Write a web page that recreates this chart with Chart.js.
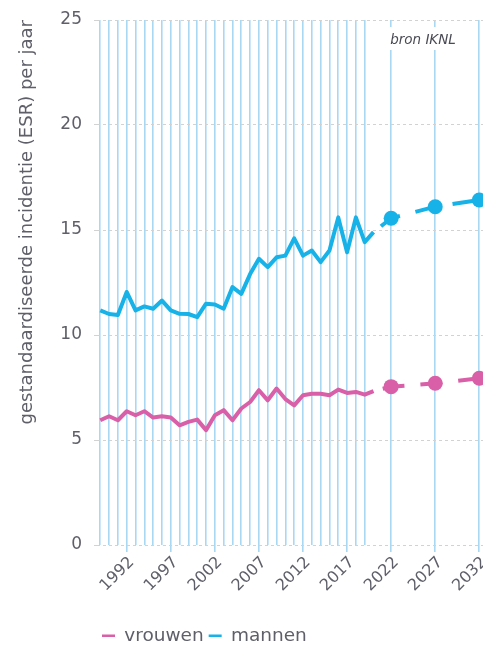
<!DOCTYPE html>
<html><head><meta charset="utf-8">
<script src="https://cdn.jsdelivr.net/npm/chart.js@4"></script>
<style>html,body{margin:0;padding:0;background:#fff}</style>
</head><body>
<canvas id="c" width="483" height="647"></canvas>
<script>
// ---- data ----
const years = [1989,1990,1991,1992,1993,1994,1995,1996,1997,1998,1999,2000,2001,2002,2003,2004,2005,2006,2007,2008,2009,2010,2011,2012,2013,2014,2015,2016,2017,2018,2019,2020];
const vrouwen = [5.94,6.13,5.94,6.37,6.18,6.37,6.07,6.13,6.07,5.70,5.86,5.97,5.47,6.18,6.42,5.94,6.50,6.81,7.37,6.89,7.45,6.95,6.65,7.13,7.20,7.20,7.13,7.40,7.24,7.29,7.16,7.33];
const mannen = [11.17,11.00,10.95,12.05,11.17,11.36,11.25,11.64,11.17,11.01,11.00,10.85,11.49,11.45,11.25,12.28,11.96,12.90,13.63,13.23,13.70,13.78,14.60,13.78,14.02,13.47,14.02,15.60,13.94,15.60,14.42,14.90];
const projYears = [2022, 2027, 2032];
const vrouwenProj = [7.54, 7.70, 7.94];
const mannenProj = [15.56, 16.11, 16.43];
const gridYears = [1989,1990,1991,1992,1993,1994,1995,1996,1997,1998,1999,2000,2001,2002,2003,2004,2005,2006,2007,2008,2009,2010,2011,2012,2013,2014,2015,2016,2017,2018,2019,2022,2027,2032];
const labelYears = [1992,1997,2002,2007,2012,2017,2022,2027,2032];
const yTicks = [0,5,10,15,20,25];
const seriesNames = ['vrouwen','mannen'];
const yTitle = 'gestandaardiseerde incidentie (ESR) per jaar';
const sourceText = 'bron IKNL';

// ---- styles ----
const PINK = '#d960a8';
const BLUE = '#17b2e7';
const GRIDBLUE = '#a9d8f3';
const TXT = '#5f5f6a';

Chart.defaults.font.family = '"DejaVu Sans", sans-serif';

function pts(xs, ys){ return xs.map((x,i)=>({x:x, y:ys[i]})); }
function proj(series, p){
  return [{x: years[years.length-1], y: series[series.length-1]}].concat(pts(projYears, p));
}

const sourcePlugin = {
  id: 'sourceLabel',
  beforeDatasetsDraw(chart){
    const {ctx, chartArea, scales} = chart;
    const x0 = scales.x.getPixelForValue(projYears[0]) - 6;
    const y0 = chartArea.top + 7;
    ctx.save();
    ctx.fillStyle = '#ffffff';
    ctx.fillRect(x0, y0, 76, 23);
    ctx.font = 'italic 13.5px "DejaVu Sans", sans-serif';
    ctx.fillStyle = '#4a4a55';
    ctx.textBaseline = 'middle';
    ctx.textAlign = 'left';
    ctx.fillText(sourceText, x0 + 5, y0 + 13);
    ctx.restore();
  }
};

const projRadius = c => c.dataIndex === 0 ? 0 : 7.5;

new Chart(document.getElementById('c'), {
  type: 'line',
  data: {
    datasets: [
      {label: seriesNames[0], data: pts(years, vrouwen), borderColor: PINK, backgroundColor: PINK, borderWidth: 4, pointRadius: 0, borderJoinStyle: 'round', tension: 0},
      {label: seriesNames[1], data: pts(years, mannen), borderColor: BLUE, backgroundColor: BLUE, borderWidth: 4, pointRadius: 0, borderJoinStyle: 'round', tension: 0},
      {label: seriesNames[0] + ' prognose', data: proj(vrouwen, vrouwenProj), borderColor: PINK, backgroundColor: PINK, borderWidth: 4, borderDash: [22,16], borderDashOffset: 28.5, pointRadius: projRadius, pointBorderWidth: 0, tension: 0},
      {label: seriesNames[1] + ' prognose', data: proj(mannen, mannenProj), borderColor: BLUE, backgroundColor: BLUE, borderWidth: 4, borderDash: [22,16], borderDashOffset: 28.5, pointRadius: projRadius, pointBorderWidth: 0, tension: 0}
    ]
  },
  options: {
    responsive: false,
    animation: false,
    events: [],
    layout: {autoPadding: false, padding: {top: 20, right: 0, left: 0, bottom: -8}},
    plugins: {
      tooltip: {enabled: false},
      legend: {
        position: 'bottom',
        align: 'start',
        fullSize: false,
        labels: {
          usePointStyle: true,
          pointStyle: 'line',
          pointStyleWidth: 13,
          padding: 5,
          color: TXT,
          font: {size: 18.5},
          generateLabels(chart){
            const items = Chart.defaults.plugins.legend.labels.generateLabels(chart);
            return items.filter(i => i.datasetIndex < 2).map(i => Object.assign({}, i, {lineWidth: 2.5, pointStyle: 'line', lineDash: []}));
          }
        }
      }
    },
    scales: {
      x: {
        type: 'linear',
        bounds: 'data',
        min: 1988.63,
        max: 2032.42,
        afterBuildTicks(scale){ scale.ticks = gridYears.map(v => ({value: v})); },
        afterFit(scale){ scale.height = 76.5; scale.paddingRight = 0; scale.paddingLeft = 0; },
        grid: {
          color: GRIDBLUE,
          lineWidth: 1.6,
          tickLength: 7,
          tickColor: c => (c.tick && labelYears.includes(c.tick.value)) ? GRIDBLUE : 'rgba(0,0,0,0)'
        },
        border: {display: false},
        ticks: {
          autoSkip: false,
          minRotation: 45,
          maxRotation: 45,
          padding: 1,
          labelOffset: 5,
          color: TXT,
          font: {size: 16},
          callback: v => labelYears.includes(v) ? String(v) : ''
        }
      },
      y: {
        min: 0,
        max: 25,
        afterBuildTicks(scale){ scale.ticks = yTicks.map(v => ({value: v})); },
        afterFit(scale){ scale.width = 97; scale.paddingTop = 0; scale.paddingBottom = 0; },
        grid: {color: '#d2d2d2', lineWidth: 1, tickLength: 3},
        border: {display: false, dash: [3,3]},
        ticks: {padding: 12, color: TXT, font: {size: 17}},
        title: {
          display: true,
          text: yTitle,
          align: 'end',
          color: TXT,
          font: {size: 18},
          padding: {top: 17, bottom: 0}
        }
      }
    }
  },
  plugins: [sourcePlugin]
});
</script>
</body></html>
